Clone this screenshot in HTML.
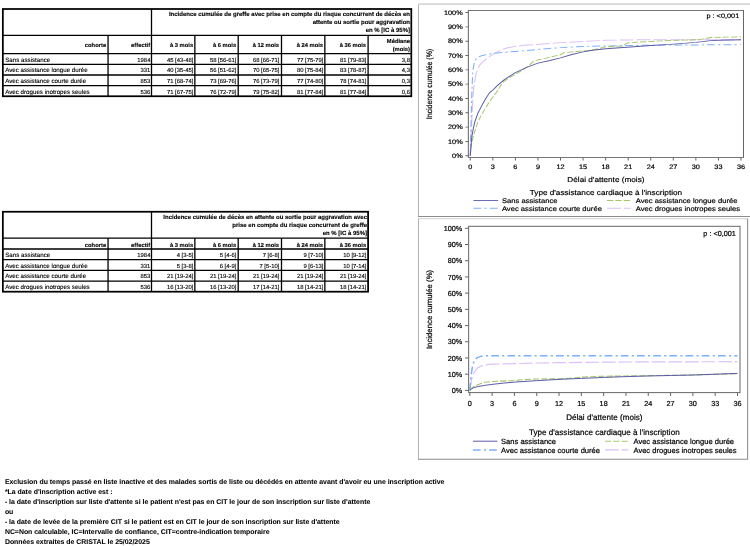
<!DOCTYPE html>
<html lang="fr"><head><meta charset="utf-8"><title>Incidence cumulée</title>
<style>
html,body{margin:0;padding:0;background:#fff}
body{width:750px;height:546px;position:relative;overflow:hidden;font-family:"Liberation Sans",Arial,sans-serif;color:#000;text-rendering:geometricPrecision}
.ch{position:absolute;left:0;top:0}
.ch text{font-family:"Liberation Sans",Arial,sans-serif;fill:#000;stroke:#000;stroke-width:0.2px}
.tk text,text.tk{font-size:7.25px}
text.ax{font-size:8.1px}
text.lg{font-size:7.55px}
text.ay{font-size:7.8px}
table.t{-webkit-text-stroke:0.12px #000;position:absolute;border-collapse:collapse;table-layout:fixed;font-size:5.9px;line-height:7px;z-index:2}
table.t th,table.t td{border:0;padding:0;overflow:hidden;white-space:nowrap;text-align:right;vertical-align:middle;font-weight:normal}
table.t td{vertical-align:top}
table.t th{font-weight:bold;font-size:5.8px}
table.t th.h1{font-size:6px}
table.t th.h1{vertical-align:top}
table.t th div{padding:0 1.9px 0 0;line-height:8px;position:relative;top:0.6px}
table.t th.h1 div{padding:0.9px 1px 0 0;line-height:8px;top:1px}
#t1 th.h2 div{top:1.6px}
#t1 th.h2:last-child div{padding-right:1px}
#t1 td:last-child div{padding-right:1.1px}
#t2 th.h2 div{top:2.6px}
table.t td div{padding:2.45px 1.6px 0 0;position:relative;top:2px;height:5px}
table.t td.l{text-align:left;font-size:6.2px}
table.t td.l div{padding:2.35px 0 0 2.2px;top:1px}
#foot{position:absolute;left:4.9px;top:477.6px;font-weight:bold;font-size:6.92px;line-height:10px;white-space:nowrap;-webkit-text-stroke:0.05px #000}
</style></head>
<body>
<table class="t" id="t1" style="left:3px;top:9px;width:408px">
<colgroup><col style="width:105px"><col style="width:44px"><col style="width:43px"><col style="width:43px"><col style="width:43px"><col style="width:44px"><col style="width:43px"><col style="width:43px"></colgroup>
<tr style="height:26px"><th colspan="2" class="e"></th><th colspan="6" class="h1"><div>Incidence cumulée de greffe avec prise en compte du risque concurrent de décès en<br>attente ou sortie pour aggravation<br>en % [IC à 95%]</div></th></tr>
<tr style="height:19px"><th class="h2"><div>cohorte</div></th><th class="h2"><div>effectif</div></th><th class="h2"><div>à 3 mois</div></th><th class="h2"><div>à 6 mois</div></th><th class="h2"><div>à 12 mois</div></th><th class="h2"><div>à 24 mois</div></th><th class="h2"><div>à 36 mois</div></th><th class="h2"><div>Médiane<br>(mois)</div></th></tr>
<tr style="height:10px"><td class="l"><div>Sans assistance</div></td><td><div>1984</div></td><td><div>45 [43-48]</div></td><td><div>58 [56-61]</div></td><td><div>68 [66-71]</div></td><td><div>77 [75-79]</div></td><td><div>81 [79-83]</div></td><td><div>3,8</div></td></tr>
<tr style="height:11px"><td class="l"><div>Avec assistance longue durée</div></td><td><div>331</div></td><td><div>40 [35-45]</div></td><td><div>56 [51-62]</div></td><td><div>70 [65-75]</div></td><td><div>80 [75-84]</div></td><td><div>83 [78-87]</div></td><td><div>4,3</div></td></tr>
<tr style="height:11px"><td class="l"><div>Avec assistance courte durée</div></td><td><div>853</div></td><td><div>71 [68-74]</div></td><td><div>73 [69-76]</div></td><td><div>76 [73-79]</div></td><td><div>77 [74-80]</div></td><td><div>78 [74-81]</div></td><td><div>0,3</div></td></tr>
<tr style="height:10px"><td class="l"><div>Avec drogues inotropes seules</div></td><td><div>536</div></td><td><div>71 [67-75]</div></td><td><div>76 [72-79]</div></td><td><div>79 [75-82]</div></td><td><div>81 [77-84]</div></td><td><div>81 [77-84]</div></td><td><div>0,6</div></td></tr>
</table>
<table class="t" id="t2" style="left:3px;top:212px;width:365px">
<colgroup><col style="width:105px"><col style="width:44px"><col style="width:43px"><col style="width:43px"><col style="width:43px"><col style="width:44px"><col style="width:43px"></colgroup>
<tr style="height:26px"><th colspan="2" class="e"></th><th colspan="5" class="h1"><div>Incidence cumulée de décès en attente ou sortie pour aggravation avec<br>prise en compte du risque concurrent de greffe<br>en % [IC à 95%]</div></th></tr>
<tr style="height:11px"><th class="h2"><div>cohorte</div></th><th class="h2"><div>effectif</div></th><th class="h2"><div>à 3 mois</div></th><th class="h2"><div>à 6 mois</div></th><th class="h2"><div>à 12 mois</div></th><th class="h2"><div>à 24 mois</div></th><th class="h2"><div>à 36 mois</div></th></tr>
<tr style="height:11px"><td class="l"><div>Sans assistance</div></td><td><div>1984</div></td><td><div>4 [3-5]</div></td><td><div>5 [4-6]</div></td><td><div>7 [6-8]</div></td><td><div>9 [7-10]</div></td><td><div>10 [9-12]</div></td></tr>
<tr style="height:10px"><td class="l"><div>Avec assistance longue durée</div></td><td><div>331</div></td><td><div>5 [3-8]</div></td><td><div>6 [4-9]</div></td><td><div>7 [5-10]</div></td><td><div>9 [6-13]</div></td><td><div>10 [7-14]</div></td></tr>
<tr style="height:11px"><td class="l"><div>Avec assistance courte durée</div></td><td><div>853</div></td><td><div>21 [19-24]</div></td><td><div>21 [19-24]</div></td><td><div>21 [19-24]</div></td><td><div>21 [19-24]</div></td><td><div>21 [19-24]</div></td></tr>
<tr style="height:11px"><td class="l"><div>Avec drogues inotropes seules</div></td><td><div>536</div></td><td><div>16 [13-20]</div></td><td><div>16 [13-20]</div></td><td><div>17 [14-21]</div></td><td><div>18 [14-21]</div></td><td><div>18 [14-21]</div></td></tr>
</table>
<svg class="ch" width="750" height="546" viewBox="0 0 750 546">
<path d="M2.85,35.4H411.3M2.85,53.65H411.3M2.85,64.35H411.3M2.85,75.0H411.3M2.85,85.65H411.3M108.06,35.4V96.25M151.5,9.0V96.25M194.85,35.4V96.25M238.2,35.4V96.25M281.5,35.4V96.25M324.85,35.4V96.25M368.1,35.4V96.25" stroke="#000" stroke-width="1.3" fill="none"/>
<rect x="2.85" y="9.0" width="408.45" height="87.25" stroke="#000" stroke-width="1.75" fill="none"/>
<path d="M2.85,238.15H368.1M2.85,249.0H368.1M2.85,259.65H368.1M2.85,270.4H368.1M2.85,281.1H368.1M108.06,238.15V291.7M151.5,211.75V291.7M194.85,238.15V291.7M238.2,238.15V291.7M281.5,238.15V291.7M324.85,238.15V291.7" stroke="#000" stroke-width="1.3" fill="none"/>
<rect x="2.85" y="211.75" width="365.25" height="79.95" stroke="#000" stroke-width="1.75" fill="none"/>
<path d="M418.5,216.4V4.15" stroke="#b4b4b4" stroke-width="1.05" fill="none"/>
<path d="M418,4.15H752" stroke="#d8d8d8" stroke-width="1.7" fill="none"/>
<path d="M418,216.4H752M751.5,4.15V216.4" stroke="#8c8c8c" stroke-width="1.05" fill="none"/>
<path d="M418.5,459.3V218.7" stroke="#b4b4b4" stroke-width="1.05" fill="none"/>
<path d="M418,218.7H748.1" stroke="#d0d0d0" stroke-width="1.0" fill="none"/>
<path d="M418,459.3H748.1M747.6,218.7V459.3" stroke="#8c8c8c" stroke-width="1.05" fill="none"/>
<g transform="translate(418.6,3.6) scale(1.0112,0.8857)">
<path d="M51.1,171.8 L51.84,152.4 L52.59,131.38 L53.85,104.21 L54.82,92.57 L56.75,79.31 L58.54,73.97 L60.32,69.44 L63.74,65.4 L67.46,62.01 L71.18,58.93 L74.9,56.18 L82.03,52.14 L89.02,49.55 L95.72,48.42 L103.9,47.13 L118.02,46 L140.33,44.06 L162.64,42.76 L184.95,41.47 L207.26,40.98 L229.56,40.82 L274.18,40.82 L318.8,40.82" fill="none" stroke="#dcc0fa" stroke-width="1.1" stroke-dasharray="13.6 3" stroke-linejoin="round"/>
<path d="M51.1,171.8 L51.84,136.23 L52.59,103.89 L53.11,87.72 L53.85,74.46 L55.26,65.24 L57.05,62.17 L58.91,60.39 L63,58.61 L67.46,57.48 L74.9,56.18 L89.02,54.57 L103.9,53.27 L118.02,51.66 L140.33,49.72 L162.64,48.42 L184.95,47.78 L229.56,46.97 L274.18,46.64 L318.8,46.32" fill="none" stroke="#7db0f9" stroke-width="1.1" stroke-dasharray="7.7 3.3 2.1 3.1" stroke-linejoin="round"/>
<path d="M51.1,171.8 L51.84,163.72 L52.59,157.25 L54.07,149.97 L55.56,144.31 L58.54,133.8 L63,123.94 L65.97,118.44 L70.06,110.68 L73.41,105.83 L78.61,97.42 L81.59,91.76 L84.56,87.72 L89.77,83.67 L95.72,80.12 L101.66,75.59 L107.61,71.55 L110.59,68.31 L113.56,65.08 L119.51,63.14 L125.46,61.84 L129.92,60.39 L140.33,57.8 L143.31,55.54 L155.2,54.08 L170.08,52.95 L184.95,48.91 L201.31,47.94 L206.51,44.54 L214.69,43.57 L229.56,42.76 L248.9,41.63 L275.67,40.82 L281.62,40.01 L289.05,38.24 L303.92,37.91 L318.8,37.59" fill="none" stroke="#a4c568" stroke-width="1" stroke-dasharray="6.2 2" stroke-linejoin="round"/>
<path d="M51.1,171.8 L51.84,160.48 L52.59,150.78 L54.07,141.08 L55.56,133.8 L58.54,123.94 L63,114.07 L65.97,107.93 L70.06,100.81 L73.41,97.58 L78.61,91.76 L84.56,86.1 L89.77,82.06 L95.72,78.01 L106.87,72.03 L118.02,67.18 L129.92,64.27 L140.33,61.2 L151.49,57.48 L162.64,54.57 L170.08,52.95 L184.95,51.01 L209.49,49.07 L229.56,47.29 L248.9,46 L274.18,43.73 L289.05,41.79 L296.49,41.31 L318.8,40.82" fill="none" stroke="#5a5aa8" stroke-width="1" stroke-linejoin="round"/>
<rect x="49.2" y="7.75" width="272.1" height="166.05" fill="none" stroke="#666" stroke-width="1"/>
<path d="M46.3,171.8H49.2M46.3,155.63H49.2M46.3,139.46H49.2M46.3,123.29H49.2M46.3,107.12H49.2M46.3,90.95H49.2M46.3,74.78H49.2M46.3,58.61H49.2M46.3,42.44H49.2M46.3,26.27H49.2M46.3,10.1H49.2M51.1,173.8V177.1M73.41,173.8V177.1M95.72,173.8V177.1M118.02,173.8V177.1M140.33,173.8V177.1M162.64,173.8V177.1M184.95,173.8V177.1M207.26,173.8V177.1M229.56,173.8V177.1M251.87,173.8V177.1M274.18,173.8V177.1M296.49,173.8V177.1M318.8,173.8V177.1" stroke="#666" stroke-width="1" fill="none"/>
<g class="tk" text-anchor="end">
<text x="43.6" y="174.4">0%</text>
<text x="43.6" y="158.23">10%</text>
<text x="43.6" y="142.06">20%</text>
<text x="43.6" y="125.89">30%</text>
<text x="43.6" y="109.72">40%</text>
<text x="43.6" y="93.55">50%</text>
<text x="43.6" y="77.38">60%</text>
<text x="43.6" y="61.21">70%</text>
<text x="43.6" y="45.04">80%</text>
<text x="43.6" y="28.87">90%</text>
<text x="43.6" y="12.7">100%</text>
</g>
<g class="tk" text-anchor="middle">
<text x="51.1" y="187">0</text>
<text x="73.41" y="187">3</text>
<text x="95.72" y="187">6</text>
<text x="118.02" y="187">9</text>
<text x="140.33" y="187">12</text>
<text x="162.64" y="187">15</text>
<text x="184.95" y="187">18</text>
<text x="207.26" y="187">21</text>
<text x="229.56" y="187">24</text>
<text x="251.87" y="187">27</text>
<text x="274.18" y="187">30</text>
<text x="296.49" y="187">33</text>
<text x="318.8" y="187">36</text>
</g>
<text class="ax" text-anchor="middle" x="185.25" y="201.2">Délai d'attente (mois)</text>
<text class="ax ay" text-anchor="middle" transform="translate(13.7,90.78) rotate(-90)">Incidence cumulée (%)</text>
<text class="tk" text-anchor="end" x="317.1" y="16.75">p : &lt;0,001</text>
<text class="ax" text-anchor="middle" x="185.25" y="215.8">Type d'assistance cardiaque à l'inscription</text>
<path d="M54.2,222.3H78.7" stroke="#5a5aa8" stroke-width="1" fill="none"/>
<text class="lg" x="82.4" y="225">Sans assistance</text>
<path d="M186.4,222.3H209.7" stroke="#a4c568" stroke-width="1" stroke-dasharray="6.2 2" fill="none"/>
<text class="lg" x="214.8" y="225">Avec assistance longue durée</text>
<path d="M54.2,231H78.7" stroke="#7db0f9" stroke-width="1.1" stroke-dasharray="7.7 3.3 2.1 3.1" fill="none"/>
<text class="lg" x="82.4" y="233.7">Avec assistance courte durée</text>
<path d="M186.4,231H209.7" stroke="#dcc0fa" stroke-width="1.1" stroke-dasharray="13.6 3" fill="none"/>
<text class="lg" x="214.8" y="233.7">Avec drogues inotropes seules</text>
</g>
<g transform="translate(418.7,218.9)">
<path d="M51.1,171.5 L51.84,166.64 L52.96,160.15 L54.82,154.8 L56.68,151.56 L58.54,149.45 L62.25,147.19 L65.97,146.05 L69.69,145.56 L73.41,145.24 L95.72,144.75 L118.02,144.11 L140.33,143.78 L184.95,143.29 L229.56,142.97 L318.8,142.81" fill="none" stroke="#dcc0fa" stroke-width="1.2" stroke-dasharray="13.6 3" stroke-linejoin="round"/>
<path d="M51.1,171.5 L51.84,163.4 L52.59,155.29 L53.7,148 L54.82,143.94 L56.31,140.7 L58.54,138.76 L62.25,137.46 L65.97,136.97 L73.41,136.81 L318.8,136.81" fill="none" stroke="#7db0f9" stroke-width="1.5" stroke-dasharray="7.7 3.3 2.1 3.1" stroke-linejoin="round"/>
<path d="M51.1,171.5 L52.59,169.55 L54.82,167.77 L58.54,166.15 L62.25,164.53 L65.97,163.4 L73.41,162.58 L88.28,161.94 L95.72,161.77 L103.15,160.8 L118.02,160.15 L140.33,159.83 L155.2,159.18 L162.64,158.21 L177.51,157.56 L184.95,157.4 L207.26,157.07 L229.56,156.75 L274.18,156.1 L296.49,155.45 L318.8,154.64" fill="none" stroke="#a4c568" stroke-width="1.1" stroke-dasharray="6.2 2" stroke-linejoin="round"/>
<path d="M51.1,171.5 L52.59,170.2 L54.82,168.91 L58.54,167.77 L65.97,166.47 L73.41,165.5 L84.56,164.21 L95.72,163.23 L118.02,161.77 L140.33,160.48 L162.64,159.5 L184.95,158.53 L207.26,157.72 L229.56,157.07 L251.87,156.59 L274.18,156.1 L296.49,155.29 L318.8,154.48" fill="none" stroke="#5a5aa8" stroke-width="1" stroke-linejoin="round"/>
<rect x="49.95" y="7.4" width="271.35" height="166.3" fill="none" stroke="#666" stroke-width="1"/>
<path d="M46.3,171.5H49.95M46.3,155.29H49.95M46.3,139.08H49.95M46.3,122.87H49.95M46.3,106.66H49.95M46.3,90.45H49.95M46.3,74.24H49.95M46.3,58.03H49.95M46.3,41.82H49.95M46.3,25.61H49.95M46.3,9.4H49.95M51.1,173.7V177.1M73.41,173.7V177.1M95.72,173.7V177.1M118.02,173.7V177.1M140.33,173.7V177.1M162.64,173.7V177.1M184.95,173.7V177.1M207.26,173.7V177.1M229.56,173.7V177.1M251.87,173.7V177.1M274.18,173.7V177.1M296.49,173.7V177.1M318.8,173.7V177.1" stroke="#666" stroke-width="1" fill="none"/>
<g class="tk" text-anchor="end">
<text x="43.6" y="174.1">0%</text>
<text x="43.6" y="157.89">10%</text>
<text x="43.6" y="141.68">20%</text>
<text x="43.6" y="125.47">30%</text>
<text x="43.6" y="109.26">40%</text>
<text x="43.6" y="93.05">50%</text>
<text x="43.6" y="76.84">60%</text>
<text x="43.6" y="60.63">70%</text>
<text x="43.6" y="44.42">80%</text>
<text x="43.6" y="28.21">90%</text>
<text x="43.6" y="12">100%</text>
</g>
<g class="tk" text-anchor="middle">
<text x="51.1" y="187">0</text>
<text x="73.41" y="187">3</text>
<text x="95.72" y="187">6</text>
<text x="118.02" y="187">9</text>
<text x="140.33" y="187">12</text>
<text x="162.64" y="187">15</text>
<text x="184.95" y="187">18</text>
<text x="207.26" y="187">21</text>
<text x="229.56" y="187">24</text>
<text x="251.87" y="187">27</text>
<text x="274.18" y="187">30</text>
<text x="296.49" y="187">33</text>
<text x="318.8" y="187">36</text>
</g>
<text class="ax" text-anchor="middle" x="185.62" y="201.2">Délai d'attente (mois)</text>
<text class="ax ay" text-anchor="middle" transform="translate(13.7,90.55) rotate(-90)">Incidence cumulée (%)</text>
<text class="tk" text-anchor="end" x="317.1" y="16.75">p : &lt;0,001</text>
<text class="ax" text-anchor="middle" x="185.62" y="215.8">Type d'assistance cardiaque à l'inscription</text>
<path d="M54.2,222.3H78.7" stroke="#5a5aa8" stroke-width="1" fill="none"/>
<text class="lg" x="82.4" y="225">Sans assistance</text>
<path d="M186.4,222.3H209.7" stroke="#a4c568" stroke-width="1.1" stroke-dasharray="6.2 2" fill="none"/>
<text class="lg" x="214.8" y="225">Avec assistance longue durée</text>
<path d="M54.2,231H78.7" stroke="#7db0f9" stroke-width="1.5" stroke-dasharray="7.7 3.3 2.1 3.1" fill="none"/>
<text class="lg" x="82.4" y="233.7">Avec assistance courte durée</text>
<path d="M186.4,231H209.7" stroke="#dcc0fa" stroke-width="1.2" stroke-dasharray="13.6 3" fill="none"/>
<text class="lg" x="214.8" y="233.7">Avec drogues inotropes seules</text>
</g>
</svg>
<div id="foot"><div>Exclusion du temps passé en liste inactive et des malades sortis de liste ou décédés en attente avant d'avoir eu une inscription active</div><div>*La date d'inscription active est :</div><div>- la date d'inscription sur liste d'attente si le patient n'est pas en CIT le jour de son inscription sur liste d'attente</div><div>ou</div><div>- la date de levée de la première CIT si le patient est en CIT le jour de son inscription sur liste d'attente</div><div>NC=Non calculable, IC=Intervalle de confiance, CIT=contre-indication temporaire</div><div>Données extraites de CRISTAL le 25/02/2025</div></div>
</body></html>
